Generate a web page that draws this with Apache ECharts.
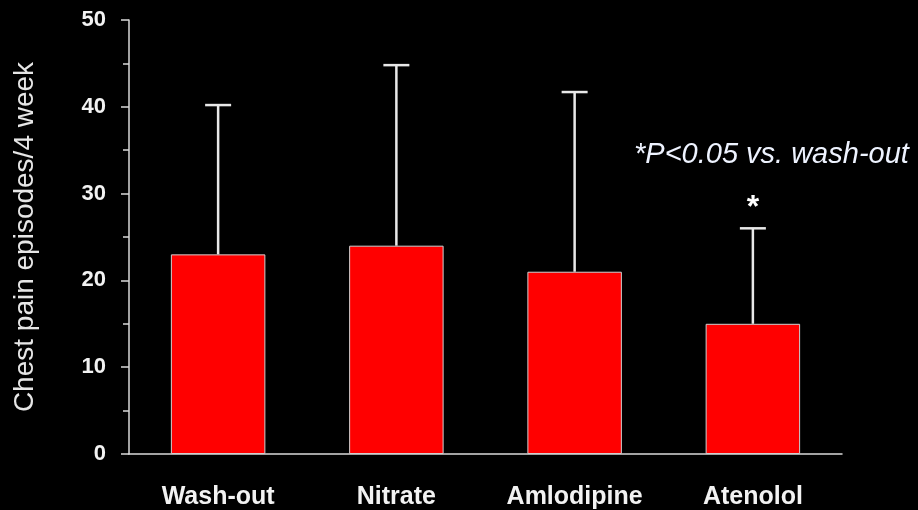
<!DOCTYPE html>
<html>
<head>
<meta charset="utf-8">
<script src="https://cdn.jsdelivr.net/npm/echarts@6/dist/echarts.min.js"></script>
<style>
html, body { margin: 0; padding: 0; background: #000; }
#chart { width: 918px; height: 510px; }
</style>
</head>
<body>
<div id="chart"></div>
<script>
var categories = ['Wash-out', 'Nitrate', 'Amlodipine', 'Atenolol'];
var means = [23, 24, 21, 15];
var errorTops = [40.2, 44.8, 41.7, 26];
var significant = [false, false, false, true];
var yName = 'Chest pain episodes/4 week';
var noteText = '*P<0.05 vs. wash-out';

var lineColor = '#d9d9d9';
var font = "'Liberation Sans', Arial, sans-serif";

var errData = categories.map(function(c, i) {
	return [i, means[i], errorTops[i]];
});

var chart = echarts.init(document.getElementById('chart'));

var option = {
	backgroundColor: '#000',
	animation: false,
	grid: {
		left: 129,
		right: 76,
		top: 20,
		bottom: 56
	},
	xAxis: {
		type: 'category',
		data: categories,
		axisLine: { lineStyle: { color: lineColor, width: 1.5 } },
		axisTick: { inside: true, length: 8, lineStyle: { color: lineColor, width: 1.5 } },
		axisLabel: {
			color: '#f2f2f2',
			fontFamily: font,
			fontWeight: 'bold',
			fontSize: 25,
			margin: 31
		}
	},
	yAxis: {
		type: 'value',
		min: 0,
		max: 50,
		interval: 10,
		name: yName,
		nameLocation: 'middle',
		nameGap: 90,
		nameTextStyle: {
			color: '#e6e6e6',
			fontFamily: font,
			fontSize: 28
		},
		splitLine: { show: false },
		axisLine: { show: true, lineStyle: { color: lineColor, width: 1.5 } },
		axisTick: { show: true, length: 8, lineStyle: { color: lineColor, width: 1.5 } },
		minorTick: { show: true, splitNumber: 2, length: 6, lineStyle: { color: lineColor, width: 1.5 } },
		axisLabel: {
			color: '#f2f2f2',
			fontFamily: font,
			fontWeight: 'bold',
			fontSize: 22,
			margin: 23
		}
	},
	graphic: [{
		type: 'text',
		left: 634,
		top: 140,
		style: {
			text: noteText,
			fill: '#eef3ff',
			font: "italic 29px 'Liberation Sans', Arial, sans-serif"
		}
	}],
	series: [{
		type: 'bar',
		data: means,
		barWidth: '53%',
		itemStyle: {
			color: '#ff0000',
			borderColor: '#d0d0d0',
			borderWidth: 1
		},
		z: 2
	}, {
		type: 'custom',
		data: errData,
		encode: { x: 0, y: [1, 2] },
		z: 3,
		renderItem: function(params, api) {
			var i = api.value(0);
			var base = api.coord([i, api.value(1)]);
			var top = api.coord([i, api.value(2)]);
			var half = 13;
			var stroke = { stroke: '#e8e8e8', lineWidth: 2.5 };
			var children = [{
				type: 'line',
				shape: { x1: top[0], y1: base[1], x2: top[0], y2: top[1] },
				style: stroke
			}, {
				type: 'line',
				shape: { x1: top[0] - half, y1: top[1], x2: top[0] + half, y2: top[1] },
				style: stroke
			}];
			if (significant[i]) {
				children.push({
					type: 'text',
					style: {
						text: '*',
						x: top[0],
						y: top[1] - 20,
						align: 'center',
						verticalAlign: 'middle',
						fill: '#ffffff',
						font: "bold 32px 'Liberation Sans', Arial, sans-serif"
					}
				});
			}
			return { type: 'group', children: children };
		}
	}]
};

chart.setOption(option);
</script>
</body>
</html>
